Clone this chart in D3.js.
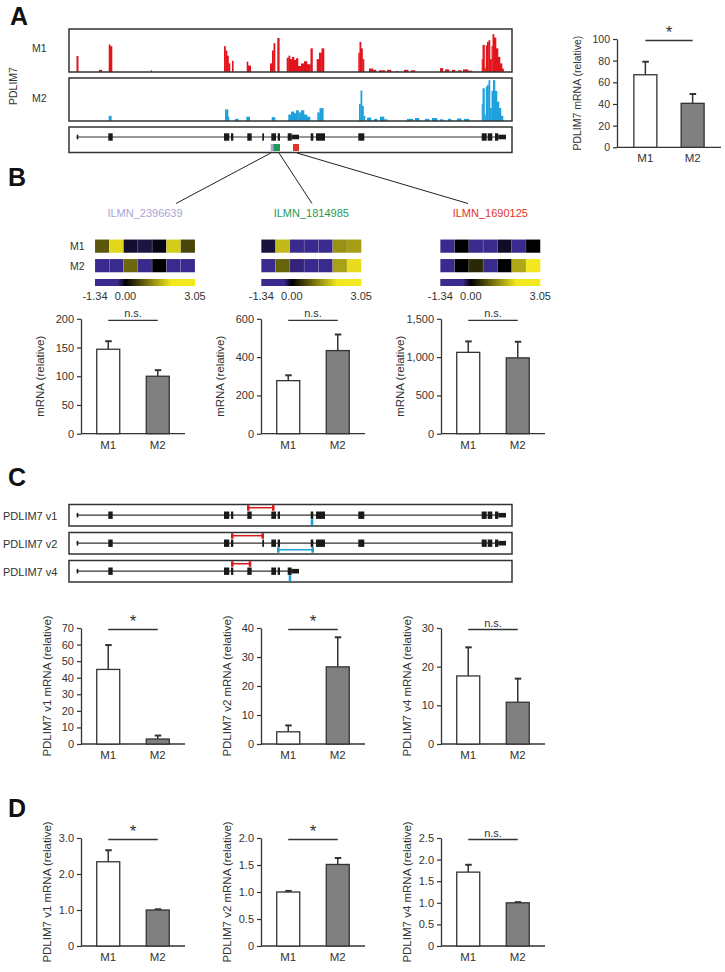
<!DOCTYPE html>
<html><head><meta charset="utf-8">
<script src="https://cdn.jsdelivr.net/npm/d3@7"></script>
<style>
body{margin:0;background:#fff}
svg{display:block}
text{font-family:"Liberation Sans",Arial,Helvetica,sans-serif;fill:#333}
</style>
</head><body>
<svg id="fig" width="725" height="972"></svg>
<script>
// ================= DATA =================
const groups = ["M1", "M2"];

// Panel A — read coverage blocks: [start, end, relative height] (gene-relative position units 0–443)
const covM1 = [
  [7.5,9.2,0.37],[30,32.7,0.05],[39.7,41,0.64],[41,43,0.6],[81.7,82.6,0.04],
  [155,156.5,0.6],[156.5,158,0.5],[158,159.5,0.38],[159.5,161,0.2],[163,164.3,0.26],
  [177.7,179,0.24],[179,181.7,0.15],
  [201,203,0.2],[203,204.5,0.5],[204.5,206,0.67],[208.3,210.3,0.79],
  [217.7,219.5,0.33],[219.5,221,0.38],[221,223,0.3],[223,225,0.35],[225,227,0.28],[227,229,0.32],
  [229,232,0.14],[232,235,0.2],[235,238,0.25],[238,241.5,0.18],[241.5,243.5,0.55],
  [247.7,250,0.3],[250,252.5,0.45],[252.5,255,0.55],
  [289.3,290.5,0.45],[290.5,292,0.7],[292,293.5,0.55],[293.5,295,0.3],
  [300,304,0.08],[304,307,0.05],[310,316,0.04],[318,322,0.05],[327,329,0.02],[335,339,0.05],[342,346,0.04],
  [371,374,0.09],[376,380,0.06],[383,386,0.05],[389,392,0.04],[394,399,0.06],[399,403,0.03],
  [412.7,413.5,0.3],[413.5,415.5,0.63],[415.5,416.5,0.1],[416.8,418,0.62],[418,419.5,0.7],[419.5,421,0.74],
  [421,422.5,0.3],[422.5,423.5,0.6],[423.5,425,0.88],[425,427,0.8],[427,429,0.55],[429,431,0.35],[431,433,0.2],[433,434.5,0.08]
];
const covM2 = [
  [39.7,42.3,0.12],[156,159,0.27],[159,160,0.1],[166,169.3,0.05],[177.3,180.7,0.1],
  [202.7,206,0.09],
  [219.3,222,0.15],[222,225,0.22],[225,227,0.18],[227,229.5,0.25],[229.5,232,0.2],[232,235,0.25],[235,238,0.15],[238,241,0.1],
  [248.3,250.5,0.2],[250.5,254.3,0.3],
  [290,291.5,0.4],[291.5,293,0.71],[293,294.5,0.35],[294.5,296,0.12],
  [298,302,0.08],[305,308,0.05],[311,315,0.1],[315,318,0.04],
  [338,344,0.05],[346,350,0.07],[356,360,0.05],[363,368,0.07],[371,374,0.04],[379,382,0.05],[388,392,0.06],[395,400,0.05],
  [412.7,413.5,0.4],[413.5,415.5,0.76],[415.5,416.5,0.15],[416.8,418,0.8],[418,419.5,0.84],[419.5,421,0.95],
  [421,422.5,0.3],[422.5,424,0.7],[424,426,0.95],[426,428,0.7],[428,430,0.45],[430,432,0.3],[432,434,0.12]
];

// Exons: [start, end, kind]  kind: c = coding (tall), u = UTR/small (short)
const exons = [
  [7.7,9.3,"u"],[39.3,43.7,"c"],[155,160.3,"c"],[162,164.3,"c"],[178.3,182.7,"c"],[193.3,195,"c"],
  [202.3,207,"c"],[208.7,211,"c"],[218.7,222.7,"c"],[222.7,230,"u"],[241.7,244.3,"c"],[247,256,"c"],
  [289.3,295.3,"c"],[412.7,417.7,"c"],[418.7,423.3,"c"],[426,429.3,"c"],[429.3,437,"u"]
];
const transcriptNames = ["PDLIM7 v1", "PDLIM7 v2", "PDLIM7 v4"];
const transcriptExons = [
  [0,1,2,3,4,6,7,10,11,12,13,14,15,16],
  [0,1,2,3,5,6,7,10,11,12,13,14,15,16],
  [0,1,2,3,4,6,7,8,9]
];
// primers: red (above) and blue (below) [start, end]
const redPrimers  = [[179.3,204.3],[163.3,193.7],[163.3,181]];
const bluePrimers = [[241.7,244.3],[209.3,243.7],[219.7,222.3]];

// Array probes
const probeNames  = ["ILMN_2396639", "ILMN_1814985", "ILMN_1690125"];
const probeColors = ["#a9a5d8", "#1f9a55", "#e0342b"];
const probeSpans  = [[201.7,204.3],[204.3,211],[224,230]];

// Panel A bar
const aMeans = [67, 40.6], aErr = [79, 49.2];

// Panel B heatmaps (z-scores) 7 samples per row
const heatM1 = [
  [0.75, 1.85, -0.12, -0.17, -0.05, 1.75, 0.6],
  [-0.15, 1.6, -0.9, -0.9, -0.9, 1.25, 1.35],
  [-0.9, 0.0, -0.9, -0.9, -0.1, -0.85, 0.0]
];
const heatM2 = [
  [-1.0, -1.0, 0.9, -0.7, 0.0, -0.9, -0.9],
  [-0.9, 0.85, -0.3, -0.8, -0.8, 1.4, 1.9],
  [-0.9, 0.0, 0.35, -0.9, 0.0, 1.45, 2.2]
];
const heatStops = [-1.34, -0.35, 0, 2.0, 3.05];
const heatColors = ["#3b2a8d", "#3b2a8d", "#000000", "#f3e81f", "#f3e81f"];
const heatTickLabels = ["-1.34", "0.00", "3.05"];

// Panel B bars
const bMeans = [[147, 100], [277, 434], [1062, 990]];
const bErr   = [[161, 110.6], [305, 518], [1205, 1200]];
const bTicks = [[0,50,100,150,200],[0,200,400,600],[0,500,1000,1500]];
const bSig   = ["n.s.","n.s.","n.s."];

// Panel C bars
const cMeans = [[45, 3.0], [4.2, 26.6], [17.6, 10.8]];
const cErr   = [[59.7, 5.1], [6.4, 36.8], [25, 16.9]];
const cTicks = [[0,10,20,30,40,50,60,70],[0,10,20,30,40],[0,10,20,30]];
const cSig   = ["*","*","n.s."];

// Panel D bars
const dMeans = [[2.34, 1.0], [1.0, 1.51], [1.71, 1.0]];
const dErr   = [[2.66, 1.02], [1.02, 1.63], [1.88, 1.015]];
const dTicks = [[0,1,2,3],[0,0.5,1,1.5,2],[0,0.5,1,1.5,2,2.5]];
const dSig   = ["*","*","n.s."];

const variantLabels = ["PDLIM7 v1 mRNA (relative)","PDLIM7 v2 mRNA (relative)","PDLIM7 v4 mRNA (relative)"];

// ================= DRAW =================
const svg = d3.select("#fig");
svg.append("rect").attr("width",725).attr("height",972).attr("fill","#fff");
const INK = "#333";

function letter(t, x, y){
  svg.append("text").attr("x",x).attr("y",y).text(t)
    .style("font-size","25px").style("font-weight","bold").style("fill","#111");
}
letter("A", 10, 25); letter("B", 8, 186); letter("C", 8, 486); letter("D", 8, 817);

const gx = d3.scaleLinear().domain([0,443]).range([69,512]);

// --- coverage tracks ---
function track(data, top, bottom, color){
  const ys = d3.scaleLinear().domain([0,1]).range([bottom, top]);
  svg.append("g").selectAll("rect").data(data).join("rect")
    .attr("x", d=>gx(d[0])).attr("width", d=>gx(d[1])-gx(d[0])+0.3)
    .attr("y", d=>ys(d[2])).attr("height", d=>bottom-ys(d[2])).attr("fill", color);
  svg.append("rect").attr("x",69).attr("y",top).attr("width",443).attr("height",bottom-top)
    .attr("fill","none").attr("stroke",INK).attr("stroke-width",1.5);
}
track(covM1, 29, 72, "#e1141c");
track(covM2, 78, 121, "#1ea1dd");
svg.append("text").attr("x",32).attr("y",52).text("M1").style("font-size","10.5px");
svg.append("text").attr("x",32).attr("y",102).text("M2").style("font-size","10.5px");
svg.append("text").attr("transform","translate(17,86) rotate(-90)").attr("text-anchor","middle")
  .text("PDLIM7").style("font-size","10.5px");

// --- gene structure drawing ---
function gene(idx, yLine){
  const ex = idx.map(i=>exons[i]);
  const g = svg.append("g");
  g.append("line").attr("x1",gx(ex[0][0])).attr("x2",gx(ex[ex.length-1][1]))
    .attr("y1",yLine).attr("y2",yLine).attr("stroke",INK).attr("stroke-width",1.2);
  g.selectAll("rect").data(ex).join("rect")
    .attr("x",d=>gx(d[0])).attr("width",d=>gx(d[1])-gx(d[0]))
    .attr("y",d=>yLine-(d[2]==="c"?3.7:2.3)).attr("height",d=>d[2]==="c"?7.4:4.6)
    .attr("fill","#1a1a1a");
  return g;
}
// Panel A gene (all exons)
svg.append("rect").attr("x",69).attr("y",127).attr("width",443).attr("height",25.5)
  .attr("fill","none").attr("stroke",INK).attr("stroke-width",1.5);
gene(d3.range(exons.length), 137);
probeSpans.forEach((p,i)=>{
  svg.append("rect").attr("x",gx(p[0])).attr("width",gx(p[1])-gx(p[0])).attr("y",144).attr("height",7)
    .attr("fill",probeColors[i]);
});
// connector lines to probe labels
const heatX = [95, 261.3, 440.3], heatW = 100;
const lineStart = [270.8, 279, 297];
const lineEnd = [176, 312, 468];
lineStart.forEach((s,i)=>{
  svg.append("line").attr("x1",s).attr("y1",153).attr("x2",lineEnd[i]).attr("y2",203.5)
    .attr("stroke","#222").attr("stroke-width",1);
});

// --- Panel B heatmaps ---
const heatColor = d3.scaleLinear().domain(heatStops).range(heatColors).clamp(true);
const defs = svg.append("defs");
const grad = defs.append("linearGradient").attr("id","hgrad");
heatStops.forEach((s,i)=>{
  grad.append("stop").attr("offset",((s-heatStops[0])/(heatStops[4]-heatStops[0])*100)+"%")
    .attr("stop-color",heatColors[i]);
});
probeNames.forEach((name,i)=>{
  const x0 = heatX[i];
  const cx = d3.scaleBand().domain(d3.range(7)).range([x0, x0+heatW]);
  svg.append("text").attr("x",x0+heatW/2).attr("y",217).attr("text-anchor","middle")
    .text(name).style("font-size","11px").style("fill",probeColors[i]);
  [[heatM1[i],239.5],[heatM2[i],259]].forEach(([row,y])=>{
    svg.append("g").selectAll("rect").data(row).join("rect")
      .attr("x",(d,j)=>cx(j)).attr("width",cx.bandwidth()).attr("y",y).attr("height",13.3)
      .attr("fill",d=>heatColor(d)).attr("stroke","rgba(255,255,255,0.18)").attr("stroke-width",0.6);
  });
  svg.append("rect").attr("x",x0).attr("y",279).attr("width",heatW).attr("height",7)
    .attr("fill","url(#hgrad)");
  const cs = d3.scaleLinear().domain([heatStops[0],heatStops[4]]).range([x0,x0+heatW]);
  [heatStops[0],0,heatStops[4]].forEach((v,k)=>{
    svg.append("text").attr("x",cs(v)).attr("y",300).attr("text-anchor","middle")
      .text(heatTickLabels[k]).style("font-size","11px");
  });
});
svg.append("text").attr("x",70).attr("y",250).text("M1").style("font-size","10.5px");
svg.append("text").attr("x",70).attr("y",269.5).text("M2").style("font-size","10.5px");

// --- bar chart ---
function barChart(o){
  const g = svg.append("g");
  const xs = d3.scalePoint().domain(groups).range([o.x0, o.x0+104]).padding(o.pad||0.55);
  const ys = d3.scaleLinear().domain([0,o.max]).range([o.y0, o.yTop]);
  const ax = g.append("g").attr("transform",`translate(${o.x0},0)`)
    .call(d3.axisLeft(ys).tickValues(o.ticks).tickFormat(o.fmt).tickSize(4).tickSizeOuter(0).tickPadding(3));
  ax.select(".domain").attr("stroke",INK).attr("stroke-width",1.3);
  ax.selectAll(".tick line").attr("stroke",INK).attr("stroke-width",1.2);
  ax.selectAll(".tick text").style("font-size",(o.tfs||11)+"px").style("fill",INK)
    .style("font-family","'Liberation Sans',Arial,sans-serif");
  g.append("line").attr("x1",o.x0).attr("x2",o.x0+104).attr("y1",o.y0).attr("y2",o.y0)
    .attr("stroke",INK).attr("stroke-width",1.3);
  const bw = o.bw||23;
  groups.forEach((c,i)=>{
    const cxp = xs(c);
    g.append("line").attr("x1",cxp).attr("x2",cxp).attr("y1",ys(o.means[i])).attr("y2",ys(o.err[i]))
      .attr("stroke",INK).attr("stroke-width",1.5);
    g.append("line").attr("x1",cxp-3).attr("x2",cxp+3.5).attr("y1",ys(o.err[i])).attr("y2",ys(o.err[i]))
      .attr("stroke",INK).attr("stroke-width",2);
    g.append("rect").attr("x",cxp-bw/2).attr("width",bw).attr("y",ys(o.means[i]))
      .attr("height",o.y0-ys(o.means[i])).attr("fill",i===0?"#fff":"#808080")
      .attr("stroke",INK).attr("stroke-width",1.3);
    g.append("text").attr("x",cxp).attr("y",o.y0+15).attr("text-anchor","middle")
      .text(c).style("font-size","11.5px");
  });
  const sy = o.yTop+1.5;
  g.append("line").attr("x1",xs("M1")).attr("x2",xs("M2")).attr("y1",sy).attr("y2",sy)
    .attr("stroke",INK).attr("stroke-width",1.3);
  const mid = (xs("M1")+xs("M2"))/2;
  if(o.sig==="*"){
    g.append("text").attr("x",mid).attr("y",sy-3).attr("text-anchor","middle").text("*")
      .style("font-size","17px");
  } else {
    g.append("text").attr("x",mid).attr("y",sy-3).attr("text-anchor","middle").text(o.sig)
      .style("font-size","11px");
  }
  g.append("text").attr("transform",`translate(${o.x0-o.lab},${(o.yTop+o.y0)/2}) rotate(-90)`)
    .attr("text-anchor","middle").attr("dominant-baseline","central")
    .text(o.label).style("font-size",(o.lfs||11.5)+"px");
}

const fmtInt = d3.format(",");
const fmt1 = d=> d===0 ? "0" : d3.format(".1f")(d);

barChart({x0:617, yTop:39, y0:147.3, max:100, ticks:[0,20,40,60,80,100], fmt:fmtInt,
  means:aMeans, err:aErr, sig:"*", label:"PDLIM7 mRNA (relative)", lab:40, pad:0.6, tfs:10.5, lfs:10.5});

const colX = [81, 261, 441];
const bMax = [200, 600, 1500];
for(let i=0;i<3;i++){
  barChart({x0:colX[i], yTop:318.8, y0:433.7, max:bMax[i], ticks:bTicks[i], fmt:fmtInt,
    means:bMeans[i], err:bErr[i], sig:bSig[i], label:"mRNA (relative)", lab:41});
}

// Panel C transcripts
const boxY = [504.5, 532.5, 560.5];
transcriptNames.forEach((n,i)=>{
  const top = boxY[i], yl = top+10.7;
  svg.append("rect").attr("x",69).attr("y",top).attr("width",443).attr("height",21.5)
    .attr("fill","none").attr("stroke",INK).attr("stroke-width",1.5);
  svg.append("text").attr("x",3).attr("y",yl+4.5).text(n).style("font-size","11px");
  gene(transcriptExons[i], yl);
  // red primer bracket above
  const r = redPrimers[i];
  svg.append("line").attr("x1",gx(r[0])).attr("x2",gx(r[1])).attr("y1",yl-7.5).attr("y2",yl-7.5)
    .attr("stroke","#d7191c").attr("stroke-width",1.5);
  [r[0], r[1]].forEach(p=>{
    svg.append("rect").attr("x",gx(p)-1.3).attr("width",2.6).attr("y",yl-10).attr("height",5.5).attr("fill","#d7191c");
  });
  // blue primer below
  const b = bluePrimers[i];
  if(gx(b[1])-gx(b[0]) > 6){
    svg.append("line").attr("x1",gx(b[0])).attr("x2",gx(b[1])).attr("y1",yl+6.5).attr("y2",yl+6.5)
      .attr("stroke","#1ea0dc").attr("stroke-width",1.5);
    [b[0], b[1]].forEach(p=>{
      svg.append("rect").attr("x",gx(p)-1.3).attr("width",2.6).attr("y",yl+4).attr("height",5.5).attr("fill","#1ea0dc");
    });
  } else {
    svg.append("rect").attr("x",gx(b[0])).attr("width",gx(b[1])-gx(b[0])).attr("y",yl+4).attr("height",6)
      .attr("fill","#1ea0dc");
  }
});

const cMax = [70, 40, 30];
for(let i=0;i<3;i++){
  barChart({x0:colX[i], yTop:628, y0:744, max:cMax[i], ticks:cTicks[i], fmt:fmtInt,
    means:cMeans[i], err:cErr[i], sig:cSig[i], label:variantLabels[i], lab:34});
}
const dMax = [3, 2, 2.5];
for(let i=0;i<3;i++){
  barChart({x0:colX[i], yTop:838, y0:946, max:dMax[i], ticks:dTicks[i], fmt:fmt1,
    means:dMeans[i], err:dErr[i], sig:dSig[i], label:variantLabels[i], lab:34});
}
</script>
</body></html>
